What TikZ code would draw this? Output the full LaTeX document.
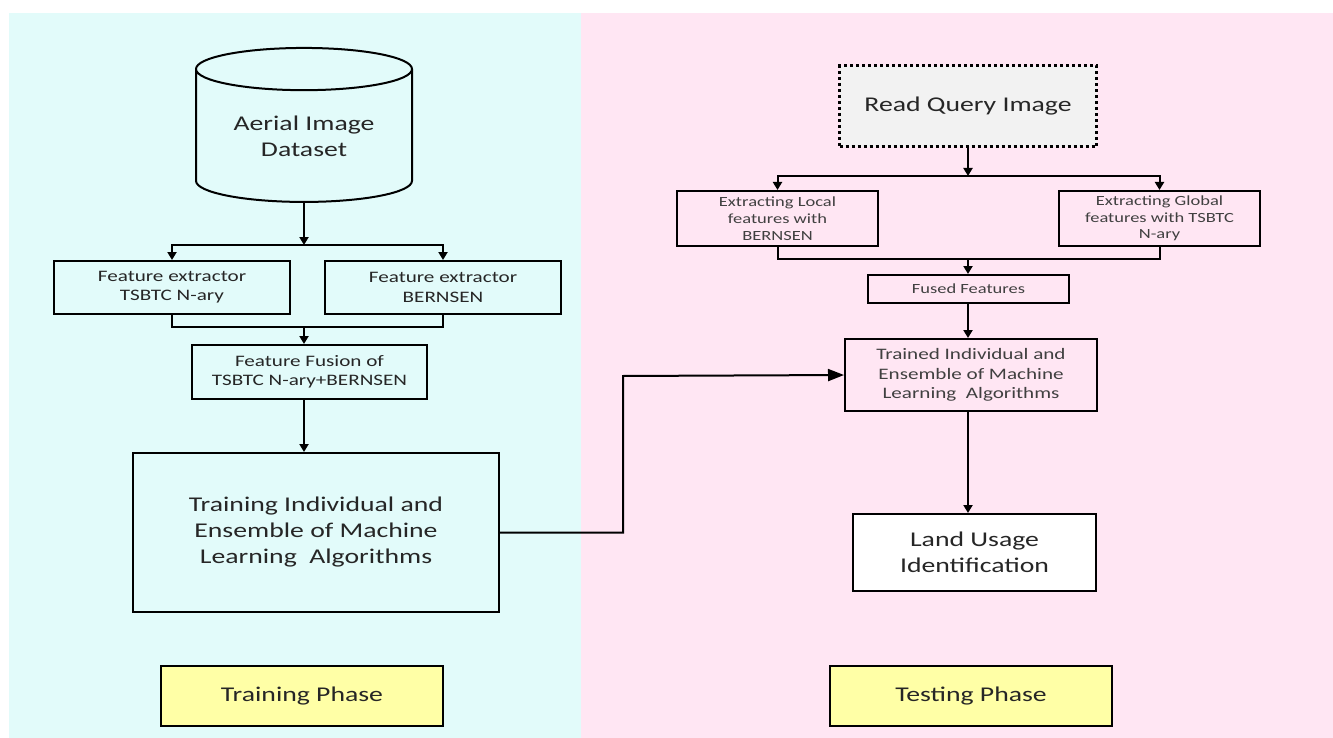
\documentclass[tikz,border=0pt]{standalone}
\usepackage{fontspec}
\setmainfont{Carlito}[FakeStretch=1.32]
\usetikzlibrary{arrows.meta,shapes.geometric}
\definecolor{trainbg}{HTML}{E2FBFA}
\definecolor{testbg}{HTML}{FFE6F3}
\definecolor{phasefill}{HTML}{FFFFA6}
\definecolor{readfill}{HTML}{F2F2F2}
\definecolor{inkdark}{HTML}{262626}
\definecolor{inkgrey}{HTML}{404040}
\tikzset{
  box/.style = {draw, line width=2pt, align=center, inner sep=0pt, text=#1},
  box/.default = inkdark,
  store/.style = {cylinder, shape border rotate=90, aspect=0.3, draw, line width=2pt,
    minimum width=216, minimum height=154, align=center, inner sep=0pt, text=inkdark},
  bigtxt/.style = {font=\fontsize{21}{26}\selectfont},
  midtxt/.style = {font=\fontsize{16}{19.3}\selectfont},
  smalltxt/.style = {font=\fontsize{14}{16.7}\selectfont},
  wire/.style = {draw=black, line width=2pt},
  arrow/.style = {wire, -{Triangle[length=8pt,width=9pt]}},
  bigarrow/.style = {wire, -{Triangle[length=16pt,width=12pt]}},
}

\begin{document}
\begin{tikzpicture}[x=1pt,y=-1pt]
% panels
  \useasboundingbox (0,0) rectangle (1333,738);
  \fill[trainbg] (9,13) rectangle (581,738);
  \fill[testbg] (581,13) rectangle (1333,738);
% training phase
  \node[store, bigtxt] (db) at (304,136) {Aerial Image\\Dataset};
  \node[box, midtxt, minimum width=236, minimum height=53] (fxA) at (172,287.5) {Feature extractor\\TSBTC N-ary};
  \node[box, midtxt, minimum width=236, minimum height=53] (fxB) at (443,287.5) {Feature extractor\\BERNSEN};
  \node[box, midtxt, minimum width=235, minimum height=54] (fuse) at (309.5,372) {Feature Fusion of\\TSBTC N-ary+BERNSEN};
  \node[box, bigtxt, minimum width=366, minimum height=159] (train) at (316,532.5) {Training Individual and\\Ensemble of Machine\\Learning\ \ Algorithms};
  \coordinate (jL) at (304,245);
  \coordinate (mL) at (304,327);
  \draw[arrow] (db.south) -- (jL);
  \draw[arrow] (jL) -| (fxA.north);
  \draw[arrow] (jL) -| (fxB.north);
  \draw[wire] (fxA.south) |- (mL) -| (fxB.south);
  \draw[arrow] (mL) -- (mL |- fuse.north);
  \draw[arrow] (fuse.south -| mL) -- (train.north -| mL);
% testing phase
  \node[box, bigtxt, fill=readfill, line width=3pt, dash pattern=on 3pt off 3pt,
    minimum width=257, minimum height=81] (rq) at (968,106.5) {Read Query Image};
  \node[box=inkgrey, smalltxt, minimum width=201, minimum height=55] (exL) at (777.5,218.5) {Extracting Local\\features with\\BERNSEN};
  \node[box=inkgrey, smalltxt, minimum width=201, minimum height=55] (exG) at (1159.5,218.5) {Extracting Global\\features with TSBTC\\N-ary};
  \node[box=inkgrey, smalltxt, minimum width=201, minimum height=28] (fused) at (968.5,289) {Fused Features};
  \node[box=inkgrey, midtxt, minimum width=252, minimum height=72] (trained) at (971,375) {Trained Individual and\\Ensemble of Machine\\Learning\ \ Algorithms};
  \node[box, bigtxt, fill=white, minimum width=243, minimum height=77] (land) at (974.5,552.5) {Land Usage\\Identification};
  \coordinate (jR) at (968,176);
  \coordinate (mR) at (968,259);
  \draw[arrow] (rq.south) -- (jR);
  \draw[arrow] (jR) -| (exL.north);
  \draw[arrow] (jR) -| (exG.north);
  \draw[wire] (exL.south) |- (mR) -| (exG.south);
  \draw[arrow] (mR) -- (mR |- fused.north);
  \draw[arrow] (fused.south -| mR) -- (trained.north -| mR);
  \draw[arrow] (trained.south -| mR) -- (land.north -| mR);
% training to testing
  \coordinate (kink) at (623,376);
  \draw[bigarrow] (train.east) -| (kink) -- (trained.west);
% phase labels
  \node[box, bigtxt, fill=phasefill, minimum width=282, minimum height=60] (phTrain) at (302,696) {Training Phase};
  \node[box, bigtxt, fill=phasefill, minimum width=282, minimum height=60] (phTest) at (971,696) {Testing Phase};
\end{tikzpicture}
\end{document}
